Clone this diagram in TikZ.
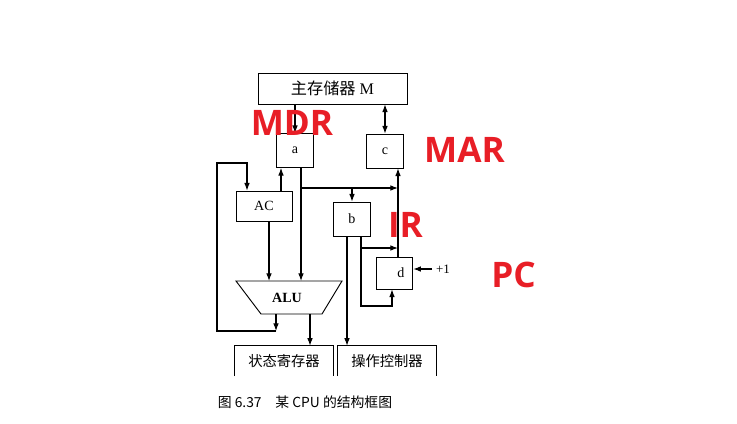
\documentclass[tikz,border=0pt]{standalone}
\usepackage{fontspec}
\setmainfont{Liberation Serif}
\newfontfamily\cjk{Noto Sans CJK SC}
\newfontfamily\tagfont{Open Sans}
\usetikzlibrary{arrows.meta}

\definecolor{tagred}{RGB}{232,30,38}
\tikzset{
	reg/.style={draw,line width=0.7pt,inner sep=0pt,minimum width=1.1cm,minimum height=1.02cm,font=\fontsize{12}{12}\selectfont},
	unit/.style={inner sep=0pt,minimum width=2.94cm,minimum height=0.9cm,font=\cjk\fontsize{12.2}{12.2}\selectfont},
	arr/.style={-{Latex[length=6.5pt,width=4.8pt]},line width=0.9pt},
	tag/.style={text=tagred,font=\tagfont\bfseries\fontsize{30}{30}\selectfont}
}

\begin{document}
\begin{tikzpicture}[x=0.03cm,y=-0.03cm]
	\useasboundingbox (0,0) rectangle (737,423);

	\node (mem) at (332.5,88.5) [draw,line width=0.7pt,inner sep=0pt,minimum width=4.47cm,minimum height=0.93cm,font=\fontsize{13.8}{13.8}\selectfont] {{\cjk 主存储器} M\hspace{0.6cm}};
	\node (a) at (295,150.5) [reg] {a};
	\node (c) at (385,151) [reg] {c};
	\node (ac) at (264,206) [reg,minimum width=1.68cm,minimum height=0.9cm] {AC};
	\node (b) at (352,219) [reg] {b};
	\node (d) at (394.5,273) [reg,minimum height=0.96cm] {\hspace{0.39cm}d};
	\node (inc) at (443,269) [font=\fontsize{11}{11}\selectfont] {+1};

	% ALU
	\coordinate (alutl) at (236,281);
	\coordinate (alutr) at (342,281);
	\coordinate (alubr) at (322,314);
	\coordinate (alubl) at (261,314);
	\draw[line width=0.8pt] (alutl) -- (alutr) -- (alubr) -- (alubl) -- cycle;
	\node (alu) at (287,298) [font=\bfseries\fontsize{12}{12}\selectfont] {ALU};

	\node (sr) at (284,361) [unit] {状态寄存器};
	\node (oc) at (387,361) [unit] {操作控制器};
	\draw[line width=1pt] (sr.south west) -- (sr.north west) -- (sr.north east) -- (sr.south east);
	\draw[line width=1pt] (oc.south west) -- (oc.north west) -- (oc.north east) -- (oc.south east);

	\node (cap) at (305,402) [font=\cjk\fontsize{11.8}{11.8}\selectfont] {图 6.37　某 CPU 的结构框图};

	\coordinate (bus) at (301,188);
	\coordinate (pcbus) at (398,188);
	\coordinate (acup) at (281,0);
	\coordinate (acdn) at (269,0);
	\coordinate (outl) at (276,331);
	\coordinate (outs) at (310,314);
	\coordinate (fb) at (217,163);
	\coordinate (fbr) at (247,163);
	\coordinate (xop) at (347,0);
	\coordinate (ird) at (361,248);
	\coordinate (pcl) at (361,306);
	\coordinate (pcin) at (392,306);

	\draw[arr] (mem.south -| a) -- (a.north);
	\draw[{Latex[length=6.5pt,width=4.8pt]}-{Latex[length=6.5pt,width=4.8pt]},line width=0.9pt] (mem.south -| c) -- (c.north);
	\draw[arr] (ac.north -| acup) -- (a.south -| acup);
	\draw[arr] (ac.south -| acdn) -- (acdn |- alutl);
	\draw[arr] (a.south -| bus) -- (bus |- alutl);
	\draw[arr] (bus) -- (pcbus);
	\draw[arr] (bus -| b) -- (b.north);
	\draw[arr] (d.north -| pcbus) -- (c.south -| pcbus);
	\draw[arr] (b.south -| xop) -- (xop |- oc.north);
	\draw[arr] (b.south -| ird) -- (ird) -- (ird -| pcbus);
	\draw[arr] (ird) -- (pcl) -- (pcin) -- (pcin |- d.south);
	\draw[arr] (inc.west) -- (d.east |- inc);
	\draw[arr] (alubl -| outl) -- (outl);
	\draw[arr] (outl) -- (outl -| fb) -- (fb) -- (fbr) -- (ac.north -| fbr);
	\draw[arr] (outs) -- (outs |- sr.north);

	\node (mdr) at (292,123) [tag] {MDR};
	\node (mar) at (464.5,149.5) [tag] {MAR};
	\node (ir) at (405.5,224.5) [tag] {IR};
	\node (pc) at (513.5,274.5) [tag] {PC};
\end{tikzpicture}
\end{document}
